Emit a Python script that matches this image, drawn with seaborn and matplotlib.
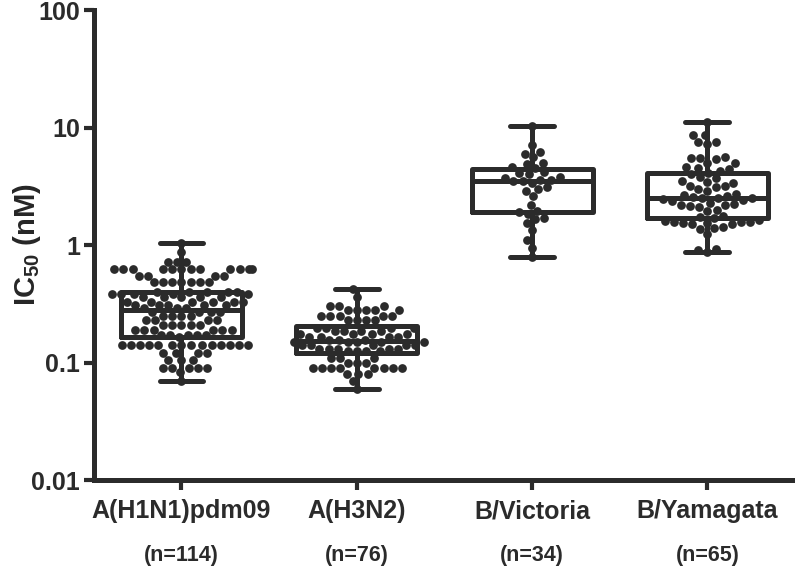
#!/usr/bin/env python
"""Oseltamivir-style IC50 scatter/box chart by influenza type."""

import matplotlib
matplotlib.use("Agg")
import matplotlib.pyplot as plt
import matplotlib.transforms as mtransforms
import pandas as pd
import seaborn as sns

# values (nM)
h1n1_values = [
    0.07, 0.083, 0.09, 0.09, 0.09, 0.09, 0.09, 0.105, 0.105, 0.105,
    0.12, 0.12, 0.12, 0.12, 0.14, 0.14, 0.14, 0.14, 0.14, 0.14,
    0.14, 0.14, 0.14, 0.14, 0.14, 0.14, 0.14, 0.14,
    0.165, 0.17, 0.17, 0.17, 0.17, 0.17, 0.19, 0.19, 0.19, 0.19,
    0.19, 0.19, 0.21, 0.21, 0.21, 0.21, 0.21, 0.23, 0.23, 0.23,
    0.23, 0.25, 0.25, 0.25, 0.25, 0.27, 0.27, 0.27, 0.27,
    0.29, 0.29, 0.29, 0.31, 0.31, 0.31, 0.31, 0.31, 0.33, 0.33,
    0.33, 0.33, 0.33, 0.33, 0.36, 0.36, 0.36, 0.36, 0.36, 0.38,
    0.38, 0.38, 0.38, 0.38, 0.40, 0.40, 0.40, 0.40, 0.40,
    0.48, 0.48, 0.48, 0.48, 0.48, 0.48, 0.48, 0.55, 0.55, 0.55,
    0.55, 0.62, 0.62, 0.62, 0.62, 0.62, 0.62, 0.62, 0.62, 0.62,
    0.62, 0.62, 0.62, 0.72, 0.72, 0.72, 0.87, 1.05,
]
h3n2_values = [
    0.06, 0.07, 0.08, 0.08, 0.08, 0.09, 0.09, 0.09, 0.09, 0.09,
    0.09, 0.09, 0.09, 0.10, 0.10, 0.10, 0.11, 0.11, 0.11,
    0.125, 0.125, 0.125, 0.125, 0.13, 0.13, 0.13, 0.13, 0.13, 0.14,
    0.14, 0.14, 0.14, 0.14, 0.15, 0.15, 0.15, 0.15, 0.15,
    0.155, 0.155, 0.155, 0.165, 0.165, 0.165, 0.165, 0.175, 0.175, 0.175,
    0.175, 0.185, 0.185, 0.185, 0.185, 0.195, 0.195, 0.195, 0.195,
    0.23, 0.23, 0.23, 0.23, 0.25, 0.25, 0.25, 0.25, 0.25, 0.28,
    0.28, 0.28, 0.28, 0.28, 0.30, 0.30, 0.30, 0.36, 0.42,
]
victoria_values = [
    0.79, 0.95, 1.1, 1.35, 1.55, 1.65, 1.7, 1.85, 1.9, 1.95,
    2.2, 2.6, 2.9, 3.0, 3.1, 3.4, 3.5, 3.5, 3.6, 3.6,
    3.7, 3.8, 4.0, 4.1, 4.2, 4.5, 4.6, 4.9, 5.0, 5.6,
    6.0, 6.2, 7.1, 10.3,
]
yamagata_values = [
    0.88, 0.90, 0.92, 1.25, 1.38, 1.40, 1.42, 1.50, 1.52, 1.54,
    1.55, 1.56, 1.57, 1.58, 1.60, 1.62, 1.70, 1.72, 1.75, 1.95,
    2.0, 2.1, 2.15, 2.2, 2.2, 2.25, 2.3, 2.35, 2.4, 2.45,
    2.5, 2.5, 2.5, 2.55, 2.6, 2.65, 2.7, 2.9, 3.0, 3.1,
    3.15, 3.2, 3.4, 3.45, 3.5, 3.7, 3.8, 4.0, 4.1, 4.3,
    4.4, 4.5, 4.6, 5.0, 5.0, 5.4, 5.5, 5.5, 5.6, 7.3,
    7.5, 7.5, 8.6, 8.6, 11.1,
]

groups = ["A(H1N1)pdm09", "A(H3N2)", "B/Victoria", "B/Yamagata"]
group_values = [h1n1_values, h3n2_values, victoria_values, yamagata_values]
n_labels = ["(n=114)", "(n=76)", "(n=34)", "(n=65)"]
y_ticks = [0.01, 0.1, 1, 10, 100]
y_ticklabels = ["0.01", "0.1", "1", "10", "100"]

INK = "#2b2b2b"


def build_frame():
    """Long-form table: one row per isolate."""
    rows = []
    for name, vals in zip(groups, group_values):
        for v in vals:
            rows.append({"group": name, "ic50": v})
    return pd.DataFrame(rows)


def main():
    df = build_frame()

    sns.set_style("white")
    plt.rcParams["font.family"] = ["Liberation Sans", "DejaVu Sans"]
    plt.rcParams["font.weight"] = "bold"
    plt.rcParams["mathtext.fontset"] = "custom"
    plt.rcParams["mathtext.rm"] = "Liberation Sans:bold"
    plt.rcParams["mathtext.default"] = "rm"

    fig = plt.figure(figsize=(7.95, 5.69), dpi=100)
    ax = fig.add_axes([0.118, 0.1564, 0.882, 0.826])
    ax.set_yscale("log")

    sns.swarmplot(data=df, x="group", y="ic50", order=groups, color=INK,
                  size=6.3, linewidth=0, ax=ax, zorder=2)
    sns.boxplot(data=df, x="group", y="ic50", order=groups, whis=(0, 100),
                width=0.69, fill=False, color=INK, linewidth=3.6,
                showfliers=False, capwidths=0.25, ax=ax, zorder=3)

    ax.set_ylim(0.01, 100)
    ax.set_xlim(-0.5, 3.5)
    ax.set_yticks(y_ticks)
    ax.set_yticklabels(y_ticklabels)
    ax.yaxis.set_minor_locator(matplotlib.ticker.NullLocator())

    ax.set_xlabel("")
    ax.set_ylabel(r"IC$_{50}$ (nM)", fontsize=21, fontweight="bold")
    ax.yaxis.label.set_va("center")
    ax.yaxis.set_label_coords(-0.095, 0.5)

    sns.despine(ax=ax)
    for side in ["left", "bottom"]:
        ax.spines[side].set_linewidth(3.6)
        ax.spines[side].set_color(INK)
    ax.tick_params(axis="both", which="major", length=7, width=3.0,
                   color=INK, labelsize=18, labelcolor=INK,
                   left=True, bottom=True)
    ax.tick_params(axis="x", pad=7)
    ax.tick_params(axis="y", pad=3)

    # sample sizes under the group names
    trans = mtransforms.blended_transform_factory(ax.transData, ax.transAxes)
    for i, label in enumerate(n_labels):
        ax.text(i, -0.16, label, transform=trans, ha="center", va="center",
                fontsize=15.5, fontweight="bold", color=INK)

    fig.savefig("out.png", dpi=100)
    plt.close(fig)


if __name__ == "__main__":
    main()
